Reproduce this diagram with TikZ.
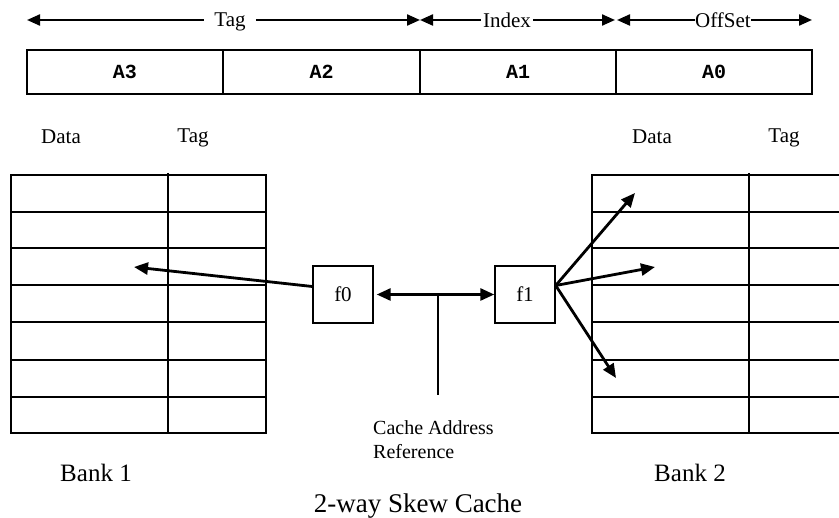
\documentclass[tikz,border=0pt]{standalone}
\usepackage{fontspec}
\setmainfont{Liberation Serif}
\newfontfamily\monofont{Liberation Mono}
\usetikzlibrary{arrows.meta}

\begin{document}
\begin{tikzpicture}[x=1pt,y=-1pt,
  cell/.style={draw, line width=1.4pt, minimum width=196pt, minimum height=44pt,
    inner sep=0pt, font=\monofont\bfseries\fontsize{20}{20}\selectfont},
  fbox/.style={draw, line width=1.4pt, minimum width=60pt, minimum height=57pt,
    inner sep=0pt, font=\fontsize{21}{21}\selectfont},
  gridline/.style={line width=1.4pt},
  spanline/.style={line width=2.2pt},
  lbl/.style={font=\fontsize{21}{21}\selectfont, inner sep=0pt},
  big/.style={font=\fontsize{25}{25}\selectfont, inner sep=0pt},
  ptr/.style={line width=2.8pt, -{Triangle[length=14pt,width=12pt]}},
]
\useasboundingbox (0,0) rectangle (839,518);
\clip (0,0) rectangle (839,518);

% ---- address field spans ----
\coordinate (tagL) at (27,20);
\coordinate (tagR) at (420,20);
\coordinate (idxL) at (420,20);
\coordinate (idxR) at (615,20);
\coordinate (offL) at (617,20);
\coordinate (offR) at (812,20);
\node[lbl, inner xsep=10pt] (tagT) at (230,22) {Tag};
\node[lbl, inner xsep=2pt] (idxT) at (507,20.5) {Index};
\node[lbl, inner xsep=0pt] (offT) at (723,20.5) {OffSet};
\draw[spanline, {Triangle[length=13pt,width=11pt]}-] (tagL) -- (tagT.west |- tagL);
\draw[spanline, -{Triangle[length=13pt,width=11pt]}] (tagT.east |- tagR) -- (tagR);
\draw[spanline, {Triangle[length=13pt,width=11pt]}-] (idxL) -- (idxT.west |- idxL);
\draw[spanline, -{Triangle[length=13pt,width=11pt]}] (idxT.east |- idxR) -- (idxR);
\draw[spanline, {Triangle[length=13pt,width=11pt]}-] (offL) -- (offT.west |- offL);
\draw[spanline, -{Triangle[length=13pt,width=11pt]}] (offT.east |- offR) -- (offR);

% ---- address register ----
\node[cell] (a3) at (125,72) {A3};
\node[cell] (a2) at (321.5,72) {A2};
\node[cell] (a1) at (518,72) {A1};
\node[cell] (a0) at (714,72) {A0};

% ---- column headers ----
\node[lbl] (d1) at (61,137) {Data};
\node[lbl] (t1) at (193,138) {Tag};
\node[lbl] (d2) at (652,137) {Data};
\node[lbl] (t2) at (784,138) {Tag};

% ---- bank 1 ----
\draw[gridline] (11,175) rectangle (266,433);
\draw[gridline] (168,173) -- (168,433);
\foreach \y in {212,248,285,322,360,397}
  \draw[gridline] (11,\y) -- (266,\y);

% ---- bank 2 ----
\draw[gridline] (850,175) -- (592,175) -- (592,433) -- (850,433);
\draw[gridline] (749,173) -- (749,433);
\foreach \y in {212,248,285,322,360,397}
  \draw[gridline] (592,\y) -- (850,\y);

% ---- hash functions ----
\node[fbox] (f0) at (343,294.5) {f0};
\node[fbox] (f1) at (525,294.5) {f1};

\draw[line width=2.8pt, {Triangle[length=14pt,width=12pt]}-{Triangle[length=14pt,width=12pt]},
  shorten <=3pt] (f0) -- (f1);

\coordinate (jn) at (438,294.5);
\coordinate (refend) at (438,395);
\draw[gridline] (jn) -- (refend);

% ---- pointers into the banks ----
\coordinate (p0) at (134,267);
\coordinate (q1) at (635,193);
\coordinate (q2) at (655,267);
\coordinate (q3) at (616,378);
\draw[ptr] ([yshift=8pt]f0.west) -- (p0);
\draw[ptr] ([yshift=9pt]f1.east) -- (q1);
\draw[ptr] ([yshift=9pt]f1.east) -- (q2);
\draw[ptr] ([yshift=9pt]f1.east) -- (q3);

% ---- captions ----
\node[lbl, anchor=west, align=left, font=\fontsize{20}{24}\selectfont]
  (ref) at (373,440) {Cache Address\\Reference};
\node[big] (b1) at (96,473) {Bank 1};
\node[big] (b2) at (690,473) {Bank 2};
\node[big, font=\fontsize{27}{27}\selectfont] (title) at (418,506) {2-way Skew Cache};
\end{tikzpicture}
\end{document}
